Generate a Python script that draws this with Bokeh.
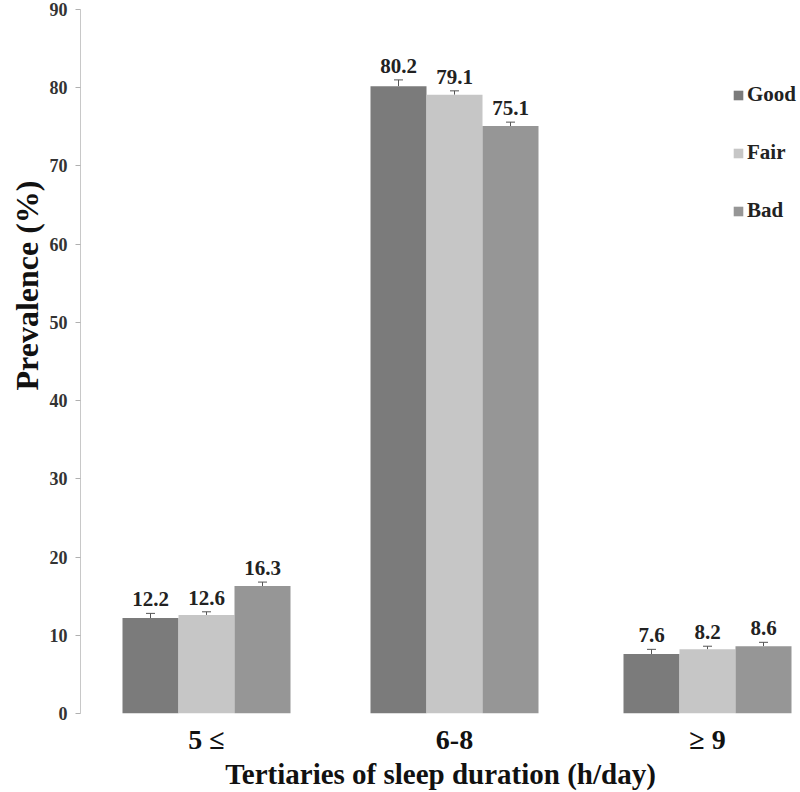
from bokeh.plotting import figure
from bokeh.models import ColumnDataSource, Range1d, FixedTicker, Legend, LegendItem, Whisker, TeeHead, Title
from bokeh.embed import file_html
from bokeh.resources import INLINE
from bokeh.core.properties import value

# ---- data ----
groups = ["5 \u2264", "6-8", "\u2265 9"]
series = ["Good", "Fair", "Bad"]
good = [12.2, 80.2, 7.6]
fair = [12.6, 79.1, 8.2]
bad = [16.3, 75.1, 8.6]
good_err = [0.6, 0.8, 0.6]
fair_err = [0.4, 0.5, 0.4]
bad_err = [0.5, 0.5, 0.5]
colors = ["#7b7b7b", "#c6c6c6", "#969696"]
y_ticks = [0, 10, 20, 30, 40, 50, 60, 70, 80, 90]
y_title = "Prevalence (%)"
x_title = "Tertiaries of sleep duration (h/day)"

FONT = "Liberation Serif"
centers = [0.504, 1.496, 2.508]
bar_w = 0.224
offsets = [-bar_w, 0.0, bar_w]

p = figure(width=800, height=792, output_backend="svg", toolbar_location=None,
           x_range=Range1d(0, 2.88), y_range=Range1d(0, 90),
           min_border_left=80, min_border_right=0, min_border_top=9, min_border_bottom=0)
p.outline_line_color = None
p.xgrid.visible = False
p.ygrid.visible = False

vals = [good, fair, bad]
errs = [good_err, fair_err, bad_err]
renderers = []
for i, s in enumerate(series):
    xs = [c + offsets[i] for c in centers]
    src = ColumnDataSource(dict(x=xs, top=vals[i], up=[v + e for v, e in zip(vals[i], errs[i])],
                                lbl=[f"{v:.1f}" for v in vals[i]]))
    r = p.vbar(x="x", top="top", width=bar_w, bottom=0, source=src,
               fill_color=colors[i], line_color=None)
    renderers.append(r)
    w = Whisker(base="x", lower="top", upper="up", source=src, dimension="height",
                line_color="#555555", line_width=1,
                upper_head=TeeHead(size=9, line_color="#555555", line_width=1),
                lower_head=None)
    p.add_layout(w)
    p.text(x="x", y="up", text="lbl", source=src, text_align="center", text_baseline="bottom",
           y_offset=-7, text_font=value(FONT), text_font_style="bold", text_font_size="21px",
           text_color="#222222")

# y axis
p.yaxis.ticker = FixedTicker(ticks=y_ticks)
p.yaxis.axis_line_color = "#c8c8c8"
p.yaxis.major_tick_line_color = "#b0b0b0"
p.yaxis.major_tick_out = 5
p.yaxis.major_tick_in = 0
p.yaxis.minor_tick_line_color = None
p.yaxis.major_label_text_font = FONT
p.yaxis.major_label_text_font_style = "bold"
p.yaxis.major_label_text_font_size = "18px"
p.yaxis.major_label_text_color = "#333333"
p.yaxis.major_label_standoff = 8

# y title placed like the reference (upper part of the axis)
ytitle = Title(text=y_title, align="right", offset=171, standoff=4,
               text_font=FONT, text_font_style="bold", text_font_size="32px",
               text_color="#111111")
p.add_layout(ytitle, "left")

# x axis
p.xaxis.ticker = FixedTicker(ticks=centers)
p.xaxis.major_label_overrides = {c: g for c, g in zip(centers, groups)}
p.xaxis.axis_line_color = None
p.xaxis.major_tick_line_color = None
p.xaxis.minor_tick_line_color = None
p.xaxis.major_label_text_font = FONT
p.xaxis.major_label_text_font_style = "bold"
p.xaxis.major_label_text_font_size = "28px"
p.xaxis.major_label_text_color = "#111111"
p.xaxis.major_label_standoff = 4
p.xaxis.axis_label = x_title
p.xaxis.axis_label_text_font = FONT
p.xaxis.axis_label_text_font_style = "bold"
p.xaxis.axis_label_text_font_size = "29px"
p.xaxis.axis_label_text_color = "#111111"
p.xaxis.axis_label_standoff = 0

legend = Legend(items=[LegendItem(label=s, renderers=[r]) for s, r in zip(series, renderers)],
                location=(652, 490), border_line_color=None, background_fill_alpha=0,
                padding=0, margin=0, spacing=33, glyph_width=12, glyph_height=12,
                label_height=24, label_standoff=3,
                label_text_font=FONT, label_text_font_style="bold", label_text_font_size="21px",
                label_text_color="#222222")
p.add_layout(legend)

open("out.html", "w").write(file_html(p, INLINE))
